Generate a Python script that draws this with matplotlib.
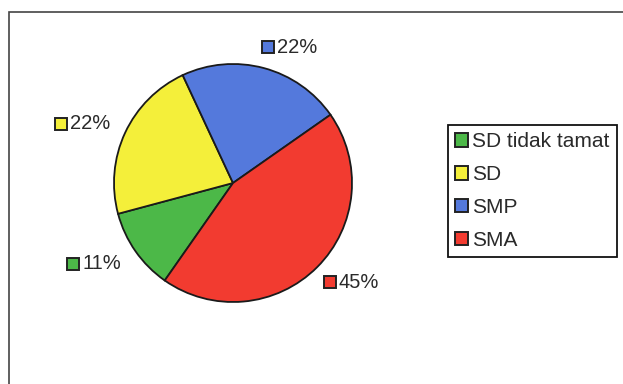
import numpy as np
import matplotlib.pyplot as plt
from matplotlib.patches import Rectangle

plt.rcParams['font.family'] = ['Liberation Sans', 'DejaVu Sans']

# pendidikan responden
kategori = ['SD tidak tamat', 'SD', 'SMP', 'SMA']
jumlah = [5, 10, 10, 20]
label_persen = ['11%', '22%', '22%', '45%']
warna = ['#4cb848', '#f4ef3a', '#5479dc', '#f23b30']

W, H = 623, 384
fig = plt.figure(figsize=(W / 100, H / 100), dpi=100)
fig.patch.set_facecolor('white')

# chart area border (runs past the right/bottom edge)
fig.patches.append(Rectangle((9 / W, -0.1), 1.2, (H - 12) / H + 0.1,
                             transform=fig.transFigure, fill=False,
                             edgecolor='#444444', linewidth=1.2))

cx, cy, r = 233, 183, 119
ax = fig.add_axes([(cx - r) / W, (H - cy - r) / H, 2 * r / W, 2 * r / H])

wedges, _ = ax.pie(jumlah, colors=warna, startangle=235, counterclock=False,
                   radius=1, wedgeprops=dict(edgecolor='#1a1a1a', linewidth=1.3))
ax.set_xlim(-1, 1)
ax.set_ylim(-1, 1)
ax.axis('off')

# data labels with a small colour key in front
px = 1 / r  # one pixel in data units
for w, txt, c in zip(wedges, label_persen, warna):
    ang = np.deg2rad((w.theta1 + w.theta2) / 2)
    bx = 1.15 * np.cos(ang) + 0.2 * np.sign(np.cos(ang))
    by = 1.18 * np.sin(ang)
    left = bx - 30 * px
    ax.add_patch(Rectangle((left, by - 6 * px), 12 * px, 12 * px, facecolor=c,
                           edgecolor='#222222', linewidth=1.4, clip_on=False))
    ax.text(left + 15 * px, by, txt, fontsize=14.5, color='#2a2a2a',
            ha='left', va='center', clip_on=False)

leg = fig.legend(wedges, kategori, loc='upper left',
                 bbox_to_anchor=(448 / W, 1 - 125 / H), fontsize=15,
                 handlelength=0.6, handleheight=0.6, handletextpad=0.2,
                 labelspacing=0.67, borderpad=0.35, fancybox=False,
                 edgecolor='#111111', framealpha=1, borderaxespad=0)
leg.get_frame().set_linewidth(1.3)
for h in leg.legend_handles:
    h.set_edgecolor('#222222')
    h.set_linewidth(1.4)
for t in leg.get_texts():
    t.set_color('#2a2a2a')

fig.savefig('out.png', dpi=100, facecolor='white')
